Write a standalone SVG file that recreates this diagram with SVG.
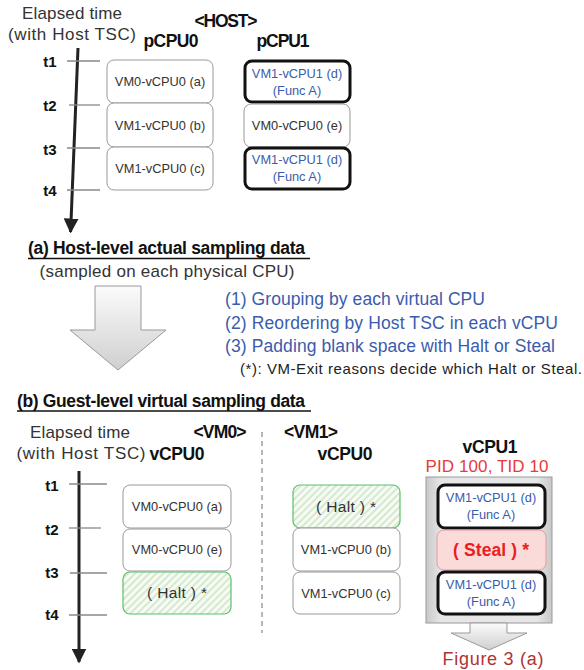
<svg xmlns="http://www.w3.org/2000/svg" width="584" height="670" viewBox="0 0 584 670">
<defs>
<linearGradient id="gArrow" x1="0" y1="0" x2="0" y2="1">
<stop offset="0" stop-color="#fbfbfb"/><stop offset="1" stop-color="#cfcfcf"/>
</linearGradient>
<linearGradient id="gBox" x1="0" y1="0" x2="1" y2="0">
<stop offset="0" stop-color="#c8c8c8"/><stop offset="0.12" stop-color="#e6e6e6"/><stop offset="0.88" stop-color="#e6e6e6"/><stop offset="1" stop-color="#c8c8c8"/>
</linearGradient>
<pattern id="hatch" width="5" height="5" patternUnits="userSpaceOnUse" patternTransform="rotate(45)">
<rect width="5" height="5" fill="#f7fbf5"/>
<rect width="2" height="5" fill="#d6e9cf"/>
</pattern>
<marker id="ah" viewBox="0 0 10 10" refX="9" refY="5" markerWidth="5" markerHeight="5" orient="auto" markerUnits="strokeWidth">
<path d="M0,0 L10,5 L0,10 z" fill="#222"/>
</marker>
</defs>
<style>
text{font-family:"Liberation Sans","Noto Sans CJK JP",sans-serif;fill:#333}
.h{font-size:17px}
.hb{font-size:17.5px;font-weight:bold;fill:#111}
.b{font-weight:bold;fill:#111}
.t{font-size:15px;font-weight:bold;fill:#111}
.bx{font-size:12.8px}
.blue{fill:#3a5cac}
.box{fill:#fff;stroke:#999;stroke-width:1}
.thick{fill:#fff;stroke:#111;stroke-width:3}
.halt{fill:url(#hatch);stroke:#5cbf6a;stroke-width:1.2}
.tick{stroke:#888;stroke-width:1.3}
.axis{stroke:#222;stroke-width:3}
.note{font-size:17.5px;fill:#3a5cac}
</style>

<g id="hostHeader">
<text x="72" y="19" class="h" text-anchor="middle" textLength="100">Elapsed time</text>
<text x="72" y="40" class="h" text-anchor="middle" textLength="128">(with Host TSC)</text>
<text x="226" y="27" class="hb" text-anchor="middle" textLength="63">&lt;HOST&gt;</text>
<text x="171" y="47" class="hb" text-anchor="middle" textLength="55">pCPU0</text>
<text x="283" y="47" class="hb" text-anchor="middle" textLength="53">pCPU1</text>
</g>

<g id="connectors">
<line class="axis" x1="78" y1="48" x2="70.6" y2="232" marker-end="url(#ah)"/>
<line class="tick" x1="67" y1="61" x2="100" y2="61"/>
<line class="tick" x1="69" y1="105" x2="100" y2="105"/>
<line class="tick" x1="67" y1="148" x2="100" y2="148"/>
<line class="tick" x1="67" y1="190" x2="100" y2="190"/>
<line class="axis" x1="79" y1="471" x2="79" y2="662" marker-end="url(#ah)"/>
<line class="tick" x1="69" y1="484" x2="107" y2="484"/>
<line class="tick" x1="69" y1="528" x2="101" y2="528"/>
<line class="tick" x1="70" y1="573" x2="107" y2="573"/>
<line class="tick" x1="69" y1="615" x2="107" y2="615"/>
<line x1="262" y1="432" x2="262" y2="633" stroke="#888" stroke-width="1.2" stroke-dasharray="5,4"/>
</g>

<g id="tlabelsA">
<text x="50" y="67" class="t" text-anchor="middle">t1</text>
<text x="50" y="111" class="t" text-anchor="middle">t2</text>
<text x="50" y="155" class="t" text-anchor="middle">t3</text>
<text x="50" y="196" class="t" text-anchor="middle">t4</text>
</g>

<g id="p0a"><rect class="box" x="107" y="60" width="106" height="43" rx="7"/><text x="160" y="86" class="bx" text-anchor="middle">VM0-vCPU0 (a)</text></g>
<g id="p0b"><rect class="box" x="107" y="103" width="106" height="44" rx="7"/><text x="160" y="130" class="bx" text-anchor="middle">VM1-vCPU0 (b)</text></g>
<g id="p0c"><rect class="box" x="107" y="147" width="106" height="43" rx="7"/><text x="160" y="173" class="bx" text-anchor="middle">VM1-vCPU0 (c)</text></g>
<g id="p1d1"><rect class="thick" x="245" y="61" width="105" height="41" rx="7"/><text x="297" y="78" class="bx blue" text-anchor="middle">VM1-vCPU1 (d)</text><text x="297" y="95" class="bx blue" text-anchor="middle">(Func A)</text></g>
<g id="p1e"><rect class="box" x="244" y="104" width="106" height="43" rx="7"/><text x="297" y="130" class="bx" text-anchor="middle">VM0-vCPU0 (e)</text></g>
<g id="p1d2"><rect class="thick" x="245" y="148" width="105" height="41" rx="7"/><text x="297" y="164" class="bx blue" text-anchor="middle">VM1-vCPU1 (d)</text><text x="297" y="181" class="bx blue" text-anchor="middle">(Func A)</text></g>

<g id="captionA">
<text x="28" y="254" class="hb" textLength="277">(a) Host-level actual sampling data</text>
<line x1="28" y1="258.5" x2="310" y2="258.5" stroke="#111" stroke-width="1.3"/>
<text x="167" y="277" class="h" text-anchor="middle" textLength="255">(sampled on each physical CPU)</text>
</g>

<g id="bigArrow">
<path d="M95,286 L141,286 L141,330 L166,330 L118,370 L70,330 L95,330 Z" fill="url(#gArrow)" stroke="#999" stroke-width="1"/>
</g>

<g id="steps">
<text x="225" y="305" class="note" textLength="260">(1) Grouping by each virtual CPU</text>
<text x="225" y="329" class="note" textLength="333">(2) Reordering by Host TSC in each vCPU</text>
<text x="225" y="352" class="note" textLength="330">(3) Padding blank space with Halt or Steal</text>
<text x="240" y="374" style="font-size:15px;fill:#222" textLength="342">(*): VM-Exit reasons decide which Halt or Steal.</text>
</g>

<g id="captionB">
<text x="17" y="407" class="hb" textLength="288">(b) Guest-level virtual sampling data</text>
<line x1="17" y1="411" x2="311" y2="411" stroke="#111" stroke-width="1.3"/>
</g>

<g id="guestHeader">
<text x="80" y="438" class="h" text-anchor="middle" textLength="100">Elapsed time</text>
<text x="81" y="459" class="h" text-anchor="middle" textLength="129">(with Host TSC)</text>
<text x="177" y="460" class="hb" text-anchor="middle" textLength="55">vCPU0</text>
<text x="220" y="438" class="hb" text-anchor="middle" textLength="53">&lt;VM0&gt;</text>
<text x="311" y="438" class="hb" text-anchor="middle" textLength="54">&lt;VM1&gt;</text>
<text x="345" y="460" class="hb" text-anchor="middle" textLength="55">vCPU0</text>
<text x="490" y="453" class="hb" text-anchor="middle" textLength="55">vCPU1</text>
<text x="487" y="472" style="font-size:17px;fill:#e83a3a" text-anchor="middle" textLength="123">PID 100, TID 10</text>
</g>

<g id="tlabelsB">
<text x="52" y="491" class="t" text-anchor="middle">t1</text>
<text x="52" y="535" class="t" text-anchor="middle">t2</text>
<text x="52" y="578" class="t" text-anchor="middle">t3</text>
<text x="52" y="620" class="t" text-anchor="middle">t4</text>
</g>

<g id="g0a"><rect class="box" x="123" y="485" width="108" height="43" rx="7"/><text x="177" y="511" class="bx" text-anchor="middle">VM0-vCPU0 (a)</text></g>
<g id="g0e"><rect class="box" x="123" y="529" width="108" height="42" rx="7"/><text x="177" y="554" class="bx" text-anchor="middle">VM0-vCPU0 (e)</text></g>
<g id="g0h"><rect class="halt" x="123" y="572" width="108" height="42" rx="7"/><text x="177" y="598" style="font-size:15.5px" text-anchor="middle" textLength="60">( Halt ) *</text></g>

<g id="g1h"><rect class="halt" x="293" y="485" width="107" height="43" rx="7"/><text x="346" y="512" style="font-size:15.5px" text-anchor="middle" textLength="60">( Halt ) *</text></g>
<g id="g1b"><rect class="box" x="293" y="528" width="107" height="43" rx="7"/><text x="346" y="554" class="bx" text-anchor="middle">VM1-vCPU0 (b)</text></g>
<g id="g1c"><rect class="box" x="293" y="572" width="107" height="42" rx="7"/><text x="346" y="598" class="bx" text-anchor="middle">VM1-vCPU0 (c)</text></g>

<g id="vcpu1">
<rect x="426" y="477" width="126" height="146" fill="url(#gBox)" stroke="#999" stroke-width="1"/>
<g id="v1d1"><rect class="thick" x="438" y="485" width="107" height="43" rx="7"/><text x="491" y="502" class="bx blue" text-anchor="middle">VM1-vCPU1 (d)</text><text x="491" y="519" class="bx blue" text-anchor="middle">(Func A)</text></g>
<g id="v1s"><rect x="437" y="530" width="109" height="40" rx="7" fill="#fbdada" stroke="#e49a9a" stroke-width="1"/><text x="491" y="556" style="font-size:17.5px;font-weight:bold;fill:#e82020" text-anchor="middle" textLength="76">( Steal ) *</text></g>
<g id="v1d2"><rect class="thick" x="438" y="572" width="107" height="42" rx="7"/><text x="491" y="589" class="bx blue" text-anchor="middle">VM1-vCPU1 (d)</text><text x="491" y="606" class="bx blue" text-anchor="middle">(Func A)</text></g>
</g>

<g id="smallArrow">
<path d="M470,623 L507,623 L507,633 L527,633 L489,650 L451,633 L470,633 Z" fill="url(#gArrow)" stroke="#999" stroke-width="1"/>
</g>
<g id="fig3"><text x="493" y="665" style="font-size:18px;fill:#b03232" text-anchor="middle" textLength="101">Figure 3 (a)</text></g>
</svg>
